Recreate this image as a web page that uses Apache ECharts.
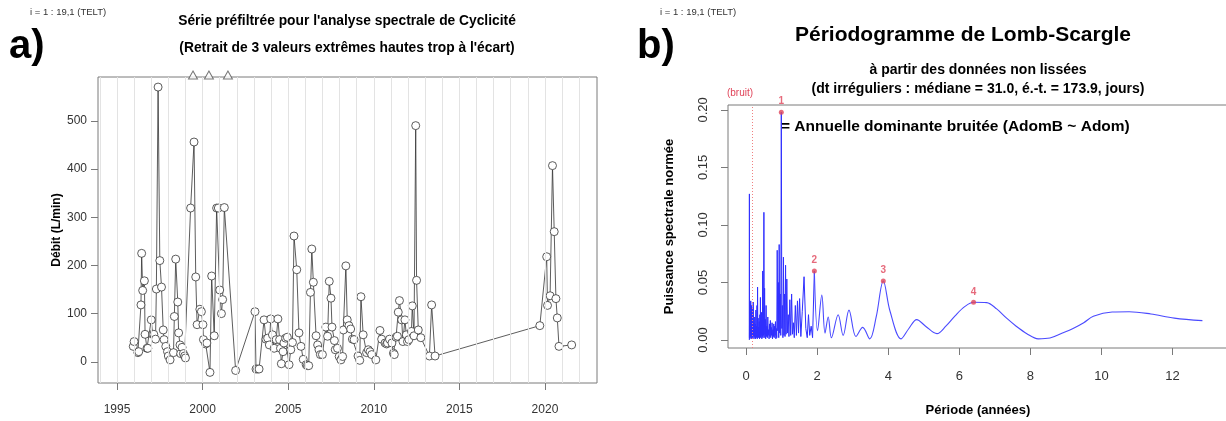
<!DOCTYPE html>
<html>
<head>
<meta charset="utf-8">
<script src="https://cdn.jsdelivr.net/npm/echarts@6/dist/echarts.min.js"></script>
<style>
  html, body { margin: 0; padding: 0; background: #fff; }
  #chart { width: 1226px; height: 421px; }
</style>
</head>
<body>
<div id="chart"></div>
<script>
// a) série préfiltrée : date décimale / débit (L/min)
const dates = [
  1995.95, 1996.00, 1996.22, 1996.27, 1996.40, 1996.44, 1996.50, 1996.60, 1996.64, 1996.75,
  1996.80, 1997.00, 1997.08, 1997.15, 1997.25, 1997.30, 1997.40, 1997.50, 1997.60, 1997.70,
  1997.75, 1997.85, 1997.95, 1998.00, 1998.10, 1998.30, 1998.35, 1998.43, 1998.55, 1998.60,
  1998.68, 1998.72, 1998.80, 1998.88, 1998.95, 1999.00, 1999.30, 1999.50, 1999.60, 1999.68,
  1999.84, 1999.93, 2000.02, 2000.05, 2000.18, 2000.25, 2000.43, 2000.53, 2000.68, 2000.82,
  2000.92, 2001.00, 2001.10, 2001.17, 2001.27, 2001.93, 2003.06, 2003.12, 2003.22, 2003.30,
  2003.59, 2003.70, 2003.80, 2003.90, 2003.98, 2004.08, 2004.18, 2004.30, 2004.40, 2004.50,
  2004.55, 2004.60, 2004.70, 2004.75, 2004.85, 2004.95, 2005.05, 2005.15, 2005.25, 2005.34,
  2005.50, 2005.63, 2005.75, 2005.88, 2006.05, 2006.12, 2006.20, 2006.30, 2006.38, 2006.47,
  2006.63, 2006.72, 2006.80, 2006.88, 2007.00, 2007.20, 2007.30, 2007.40, 2007.50, 2007.56,
  2007.70, 2007.75, 2007.88, 2007.98, 2008.08, 2008.18, 2008.22, 2008.37, 2008.45, 2008.55,
  2008.65, 2008.75, 2008.85, 2009.08, 2009.18, 2009.25, 2009.38, 2009.58, 2009.68, 2009.78,
  2009.88, 2010.12, 2010.36, 2010.46, 2010.66, 2010.75, 2010.80, 2010.92, 2011.06, 2011.15,
  2011.20, 2011.30, 2011.38, 2011.43, 2011.50, 2011.63, 2011.70, 2011.82, 2011.90, 2011.97,
  2012.05, 2012.20, 2012.25, 2012.35, 2012.45, 2012.50, 2012.60, 2012.75, 2013.25, 2013.38,
  2013.58, 2019.70, 2020.10, 2020.15, 2020.30, 2020.44, 2020.54, 2020.64, 2020.72, 2020.82,
  2021.56
];
const debits = [
  32, 42, 19, 21, 118, 225, 148, 168, 57, 28,
  28, 87, 57, 57, 47, 151, 570, 210, 155, 66,
  46, 32, 21, 12, 4, 19, 94, 213, 124, 60,
  35, 17, 30, 17, 12, 8, 319, 456, 176, 77,
  109, 104, 77, 46, 37, 39, -22, 178, 54, 319,
  319, 149, 100, 129, 320, -18, 104, -15, -15, -15,
  87, 47, 49, 35, 89, 56, 28, 46, 89, 46,
  28, -4, 21, 39, 49, 51, -6, 25, 40, 261,
  191, 60, 32, 5, -6, -8, -8, 144, 234, 165,
  54, 35, 25, 15, 15, 72, 53, 167, 132, 72,
  44, 25, 28, 11, 4, 11, 66, 199, 87, 75,
  68, 47, 46, 12, 3, 135, 56, 19, 25, 21,
  15, 4, 65, 47, 39, 37, 39, 47, 39, 18,
  15, 51, 53, 103, 127, 87, 42, 87, 56, 42,
  46, 63, 116, 54, 490, 169, 66, 50, 12, 118,
  12, 75, 218, 117, 137, 407, 270, 131, 91, 32,
  35
];
// valeurs extrêmes retirées (hors cadre, marquées en haut)
const outlierDates = [1999.44, 2000.37, 2001.48];
const gridYears = [1994, 1995, 1996, 1997, 1998, 1999, 2000, 2001, 2002, 2003, 2004, 2005, 2006, 2007,
  2008, 2009, 2010, 2011, 2012, 2013, 2014, 2015, 2016, 2017, 2018, 2019, 2020, 2021, 2022];
const yearTicks = [1995, 2000, 2005, 2010, 2015, 2020];
const debitTicks = [0, 100, 200, 300, 400, 500];

// b) périodogramme : période (années) / puissance normée
const noisePeriods = [
  0.090, 0.092, 0.094, 0.097, 0.100, 0.104, 0.108, 0.112, 0.116, 0.120,
  0.125, 0.130, 0.135, 0.140, 0.146, 0.152, 0.158, 0.164, 0.170, 0.176,
  0.182, 0.188, 0.194, 0.200, 0.207, 0.214, 0.221, 0.228, 0.235, 0.242,
  0.250, 0.258, 0.266, 0.274, 0.282, 0.290, 0.298, 0.306, 0.314, 0.322,
  0.330, 0.338, 0.346, 0.354, 0.362, 0.370, 0.378, 0.386, 0.394, 0.402,
  0.410, 0.418, 0.426, 0.434, 0.442, 0.450, 0.458, 0.466, 0.474, 0.482,
  0.490, 0.500, 0.510, 0.520, 0.530, 0.540, 0.550, 0.562, 0.574, 0.586,
  0.598, 0.610, 0.622, 0.634, 0.646, 0.658, 0.670, 0.682, 0.694, 0.706,
  0.718, 0.730, 0.742, 0.754, 0.766, 0.778, 0.790, 0.802, 0.814, 0.826,
  0.838, 0.850, 0.862, 0.875, 0.890, 0.905, 0.918, 0.930, 0.945, 0.960,
  0.975, 0.990, 1.005, 1.020, 1.035, 1.050, 1.065, 1.080, 1.095, 1.110,
  1.125, 1.145, 1.165, 1.185, 1.205, 1.230, 1.255, 1.280, 1.305, 1.330,
  1.355, 1.385, 1.415, 1.445, 1.475, 1.505, 1.540, 1.580, 1.630, 1.680,
  1.720, 1.755, 1.790, 1.830, 1.870, 1.920
];
const noisePowers = [
  0.000, 0.127, 0.002, 0.030, 0.004, 0.033, 0.001, 0.028, 0.003, 0.031,
  0.006, 0.034, 0.002, 0.025, 0.004, 0.030, 0.001, 0.022, 0.005, 0.018,
  0.002, 0.028, 0.003, 0.033, 0.004, 0.015, 0.001, 0.012, 0.003, 0.020,
  0.002, 0.014, 0.001, 0.026, 0.003, 0.012, 0.002, 0.030, 0.001, 0.046,
  0.003, 0.019, 0.002, 0.011, 0.004, 0.016, 0.001, 0.022, 0.003, 0.037,
  0.002, 0.013, 0.004, 0.024, 0.001, 0.016, 0.003, 0.060, 0.002, 0.028,
  0.004, 0.111, 0.002, 0.045, 0.005, 0.018, 0.001, 0.030, 0.003, 0.012,
  0.002, 0.020, 0.004, 0.009, 0.001, 0.014, 0.003, 0.017, 0.002, 0.011,
  0.004, 0.015, 0.001, 0.009, 0.003, 0.014, 0.002, 0.012, 0.004, 0.016,
  0.001, 0.010, 0.002, 0.078, 0.008, 0.050, 0.002, 0.083, 0.006, 0.040,
  0.004, 0.198, 0.010, 0.030, 0.002, 0.072, 0.004, 0.040, 0.003, 0.065,
  0.005, 0.053, 0.006, 0.022, 0.003, 0.035, 0.004, 0.040, 0.005, 0.015,
  0.002, 0.030, 0.004, 0.034, 0.006, 0.036, 0.003, 0.025, 0.055, 0.010,
  0.002, 0.022, 0.004, 0.012, 0.002, 0.060
];
const smoothPeriods = [
  1.92, 2.01, 2.13, 2.22, 2.31, 2.40, 2.59, 2.73, 2.895, 3.09,
  3.28, 3.48, 3.66, 3.86, 4.05, 4.36, 4.58, 4.80, 5.05, 5.37,
  5.62, 5.88, 6.15, 6.40, 6.77, 7.05, 7.33, 7.60, 7.90, 8.22,
  8.55, 8.90, 9.20, 9.50, 9.77, 10.30, 10.78, 11.39, 12.05, 12.84
];
const smoothPowers = [
  0.060, 0.008, 0.039, 0.006, 0.020, 0.002, 0.022, 0.004, 0.026, 0.003,
  0.011, 0.001, 0.020, 0.0513, 0.025, 0.001, 0.010, 0.0177, 0.012, 0.0055,
  0.012, 0.021, 0.029, 0.0328, 0.0325, 0.027, 0.019, 0.012, 0.0055, 0.001,
  0.0017, 0.006, 0.010, 0.015, 0.0206, 0.0243, 0.0246, 0.0226, 0.019, 0.0168
];
const peakPeriods = [0.99, 1.92, 3.86, 6.40];
const peakPowers = [0.198, 0.060, 0.0513, 0.0328];
const peakRanks = ['1', '2', '3', '4'];
const noiseLimit = 0.17;
const periodTicks = [0, 2, 4, 6, 8, 10, 12];
const powerTicks = [0, 0.05, 0.10, 0.15, 0.20];

const FONT = "'Liberation Sans', Arial, sans-serif";
const RED = '#e0455a';
const BOX = '#7a7a7a';

const chart = echarts.init(document.getElementById('chart'));

const pairs = (xs, ys) => xs.map((x, i) => [x, ys[i]]);
const debitMax = 590.9;

const txt = (text, x, y, size, weight, align, color) => ({
  type: 'text', x: x, y: y, silent: true,
  style: { text: text, fontFamily: FONT, fontSize: size, fontWeight: weight || 'normal',
    fill: color || '#000', align: align || 'left', verticalAlign: 'middle' }
});

const tick = vals => ({ show: true, customValues: vals, length: 7, inside: false, lineStyle: { color: BOX } });
const noLine = { show: false, onZero: false };

chart.setOption({
  animation: false,
  backgroundColor: '#fff',
  textStyle: { fontFamily: FONT },
  grid: [
    { left: 98, top: 77, width: 499, height: 306, show: true, borderColor: BOX, borderWidth: 1,
      containLabel: false, outerBoundsMode: 'none' },
    { left: 728, top: 105, width: 500, height: 243, show: true, borderColor: BOX, borderWidth: 1,
      containLabel: false, outerBoundsMode: 'none' }
  ],
  xAxis: [
    {
      type: 'value', gridIndex: 0, min: 1993.89, max: 2023.04, position: 'bottom',
      axisLine: noLine,
      axisTick: tick(yearTicks),
      axisLabel: { customValues: yearTicks, margin: 21, fontSize: 12, color: '#333', fontFamily: FONT,
        formatter: v => String(v) },
      splitLine: { show: false }
    },
    {
      type: 'value', gridIndex: 1, min: -0.51, max: 13.56, position: 'bottom',
      name: 'Période (années)', nameLocation: 'middle', nameGap: 56,
      nameTextStyle: { fontSize: 13, fontWeight: 'bold', color: '#000', fontFamily: FONT },
      axisLine: noLine,
      axisTick: tick(periodTicks),
      axisLabel: { customValues: periodTicks, margin: 22, fontSize: 13, color: '#333', fontFamily: FONT,
        formatter: v => String(v) },
      splitLine: { show: false }
    }
  ],
  yAxis: [
    {
      type: 'value', gridIndex: 0, min: -44, max: debitMax, position: 'left',
      name: 'Débit (L/min)', nameLocation: 'middle', nameGap: 20, nameRotate: 90,
      nameTextStyle: { fontSize: 12, fontWeight: 'bold', color: '#000', fontFamily: FONT },
      axisLine: noLine,
      axisTick: tick(debitTicks),
      axisLabel: { customValues: debitTicks, margin: 11, fontSize: 12, color: '#333', fontFamily: FONT },
      splitLine: { show: false }
    },
    {
      type: 'value', gridIndex: 1, min: -0.00696, max: 0.2043, position: 'left',
      name: 'Puissance spectrale normée', nameLocation: 'middle', nameGap: 52, nameRotate: 90,
      nameTextStyle: { fontSize: 13, fontWeight: 'bold', color: '#000', fontFamily: FONT },
      axisLine: noLine,
      axisTick: tick(powerTicks),
      axisLabel: { customValues: powerTicks, margin: 18, rotate: 90, fontSize: 13, color: '#333',
        fontFamily: FONT, formatter: v => v.toFixed(2) },
      splitLine: { show: false }
    }
  ],
  series: [
    {
      // quadrillage annuel
      type: 'scatter', xAxisIndex: 0, yAxisIndex: 0, data: [], z: 1, silent: true,
      markLine: {
        silent: true, symbol: 'none', animation: false,
        label: { show: false },
        lineStyle: { color: '#e3e3e3', width: 1, type: 'solid' },
        data: gridYears.map(y => ({ xAxis: y }))
      }
    },
    {
      name: 'Débit', type: 'line', xAxisIndex: 0, yAxisIndex: 0, z: 3,
      data: pairs(dates, debits),
      symbol: 'circle', symbolSize: 8,
      lineStyle: { color: '#333', width: 0.8 },
      itemStyle: { color: '#fff', borderColor: '#333', borderWidth: 0.8 }
    },
    {
      name: 'Retirées', type: 'scatter', xAxisIndex: 0, yAxisIndex: 0, z: 4, clip: false,
      data: outlierDates.map(d => [d, debitMax]),
      symbol: 'triangle', symbolSize: [9, 8], symbolOffset: [0, -2],
      itemStyle: { color: '#fff', borderColor: '#555', borderWidth: 1 }
    },
    {
      name: 'Spectre', type: 'line', xAxisIndex: 1, yAxisIndex: 1, z: 3,
      data: pairs(noisePeriods, noisePowers), symbol: 'none',
      lineStyle: { color: '#2f2fff', width: 1 },
      markLine: {
        silent: true, symbol: 'none', animation: false,
        label: { show: false },
        lineStyle: { color: '#f08080', width: 1, type: [1, 2] },
        data: [{ xAxis: noiseLimit }]
      }
    },
    {
      name: 'Spectre lisse', type: 'line', xAxisIndex: 1, yAxisIndex: 1, z: 3,
      data: pairs(smoothPeriods, smoothPowers), symbol: 'none', smooth: 0.35,
      lineStyle: { color: '#4a4aff', width: 1.1 }
    },
    {
      name: 'Pics', type: 'scatter', xAxisIndex: 1, yAxisIndex: 1, z: 5, clip: false,
      data: peakPeriods.map((p, i) => ({ value: [p, peakPowers[i]], label: { formatter: peakRanks[i] } })),
      symbol: 'circle', symbolSize: 5,
      itemStyle: { color: RED },
      label: { show: true, position: 'top', distance: 3, color: RED, fontSize: 10, fontWeight: 'bold', fontFamily: FONT }
    }
  ],
  graphic: [
    txt('i = 1 : 19,1 (TELT)', 30, 12, 9.5, 'normal', 'left', '#333'),
    txt('a)', 9, 47, 40, 'bold'),
    txt("Série préfiltrée pour l'analyse spectrale de Cyclicité", 347, 21, 13.8, 'bold', 'center'),
    txt("(Retrait de 3 valeurs extrêmes hautes trop à l'écart)", 347, 48, 13.8, 'bold', 'center'),
    txt('i = 1 : 19,1 (TELT)', 660, 12, 9.5, 'normal', 'left', '#333'),
    txt('b)', 637, 47, 40, 'bold'),
    txt('Périodogramme de Lomb-Scargle', 963, 35, 21, 'bold', 'center'),
    txt('à partir des données non lissées', 978, 70, 14, 'bold', 'center'),
    txt('(dt irréguliers : médiane = 31.0, é.-t. = 173.9, jours)', 978, 89, 14, 'bold', 'center'),
    txt('(bruit)', 740, 93, 10, 'normal', 'center', RED),
    txt('= Annuelle dominante bruitée (AdomB ~ Adom)', 781, 127, 15.5, 'bold', 'left')
  ]
});

window.addEventListener('resize', () => chart.resize());
</script>
</body>
</html>
